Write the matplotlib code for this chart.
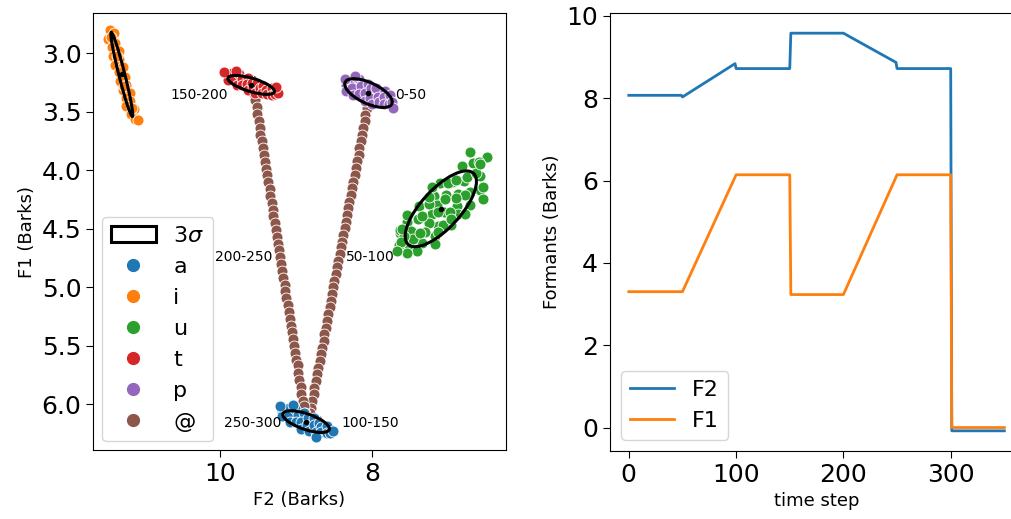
import numpy as np
import matplotlib
matplotlib.use("Agg")
import matplotlib.pyplot as plt
from matplotlib.patches import Ellipse

# ---- vowel clusters (F2, F1 in Barks) ----
vowels = ["a", "i", "u", "t", "p", "@"]
colors = ["#1f77b4", "#ff7f0e", "#2ca02c", "#d62728", "#9467bd", "#8c564b"]

a_f2 = [9.18, 9.18, 9.10, 9.09, 9.02, 9.08, 8.98, 9.00, 8.90, 8.93, 8.93, 8.85, 8.86, 8.77,
        8.83, 8.76, 8.70, 8.74, 8.68, 8.67, 8.60, 8.60, 8.56, 8.51, 9.21, 9.04, 8.74]
a_f1 = [6.06, 6.10, 6.03, 6.09, 6.04, 6.15, 6.09, 6.15, 6.08, 6.15, 6.21, 6.12, 6.18, 6.12,
        6.23, 6.18, 6.16, 6.24, 6.20, 6.24, 6.19, 6.25, 6.25, 6.23, 6.02, 6.01, 6.28]

i_f2 = [11.45, 11.39, 11.47, 11.38, 11.42, 11.33, 11.40, 11.33, 11.38, 11.27, 11.32, 11.25,
        11.31, 11.23, 11.27, 11.18, 11.23, 11.18, 11.23, 11.13, 11.17, 11.11, 11.08,
        11.43, 11.35, 11.26, 11.16]
i_f1 = [2.80, 2.83, 2.88, 2.91, 2.95, 2.98, 3.02, 3.05, 3.10, 3.12, 3.16, 3.20,
        3.24, 3.27, 3.31, 3.34, 3.38, 3.41, 3.45, 3.48, 3.52, 3.56, 3.57,
        2.86, 3.02, 3.28, 3.47]

u_f2 = [6.59, 6.68, 6.82, 6.58, 6.79, 6.72, 6.95, 6.72, 6.88, 7.11, 6.89, 7.03, 6.88, 7.19,
        7.06, 7.15, 6.97, 7.21, 7.14, 7.39, 7.26, 7.40, 7.17, 7.31, 7.54, 7.35, 7.49, 7.47,
        7.63, 7.52, 7.65, 6.50, 6.72, 6.60, 7.22, 7.17, 7.41, 6.55, 7.64, 7.59, 7.07,
        6.54, 6.75, 6.78, 6.90, 7.01, 7.05, 6.98, 7.25, 7.14, 7.14, 7.35, 7.38, 7.55, 7.61,
        7.55, 7.62, 6.78, 6.90, 6.64, 6.97, 7.26, 6.58, 7.67]
u_f1 = [4.05, 3.94, 3.96, 4.17, 4.09, 4.19, 4.10, 4.30, 4.20, 4.11, 4.31, 4.21, 4.37, 4.22,
        4.36, 4.30, 4.47, 4.37, 4.48, 4.31, 4.45, 4.42, 4.56, 4.53, 4.44, 4.62, 4.52, 4.59,
        4.54, 4.67, 4.64, 3.89, 3.84, 3.93, 4.14, 4.63, 4.69, 4.25, 4.51, 4.56, 4.47,
        4.14, 4.06, 4.21, 4.24, 4.11, 4.25, 4.36, 4.29, 4.36, 4.53, 4.39, 4.54, 4.38, 4.50,
        4.71, 4.61, 4.37, 4.08, 4.02, 4.42, 4.23, 3.95, 4.69]

t_f2 = [9.90, 9.89, 9.84, 9.81, 9.75, 9.78, 9.71, 9.71, 9.63, 9.64, 9.63, 9.58, 9.57, 9.51,
        9.54, 9.48, 9.44, 9.45, 9.40, 9.38, 9.32, 9.32, 9.28, 9.24, 9.95, 9.79, 9.26]
t_f1 = [3.19, 3.23, 3.17, 3.22, 3.18, 3.27, 3.22, 3.27, 3.21, 3.26, 3.31, 3.25, 3.30, 3.25,
        3.34, 3.30, 3.28, 3.34, 3.31, 3.35, 3.30, 3.36, 3.35, 3.34, 3.16, 3.15, 3.29]

p_f2 = [8.35, 8.34, 8.28, 8.26, 8.18, 8.25, 8.15, 8.17, 8.06, 8.09, 8.10, 8.02, 8.03, 7.95,
        8.01, 7.93, 7.83, 7.91, 7.85, 7.85, 7.77, 7.78, 7.74, 7.73, 8.36, 8.23]
p_f1 = [3.27, 3.32, 3.23, 3.30, 3.22, 3.36, 3.28, 3.35, 3.26, 3.34, 3.41, 3.30, 3.38, 3.30,
        3.43, 3.37, 3.32, 3.42, 3.37, 3.43, 3.36, 3.43, 3.42, 3.47, 3.22, 3.19]

# trajectory dots (@), steps 51-100 and 201-250 plus the held targets
traj_f2 = [8.06, 9.58, 8.72,
           8.04, 8.05, 8.07, 8.09, 8.10, 8.12, 8.13, 8.15, 8.17, 8.18,
           8.20, 8.22, 8.23, 8.25, 8.27, 8.28, 8.30, 8.32, 8.33, 8.35,
           8.36, 8.38, 8.40, 8.41, 8.43, 8.45, 8.46, 8.48, 8.50, 8.51,
           8.53, 8.54, 8.56, 8.58, 8.59, 8.61, 8.63, 8.64, 8.66, 8.68,
           8.69, 8.71, 8.73, 8.74, 8.76, 8.77, 8.79, 8.81, 8.82, 8.84,
           9.57, 9.55, 9.54, 9.52, 9.51, 9.49, 9.48, 9.47, 9.45, 9.44,
           9.42, 9.41, 9.40, 9.38, 9.37, 9.35, 9.34, 9.32, 9.31, 9.30,
           9.28, 9.27, 9.25, 9.24, 9.23, 9.21, 9.20, 9.18, 9.17, 9.15,
           9.14, 9.13, 9.11, 9.10, 9.08, 9.07, 9.06, 9.04, 9.03, 9.01,
           9.00, 8.98, 8.97, 8.96, 8.94, 8.93, 8.91, 8.90, 8.88, 8.87]
traj_f1 = [3.30, 3.23, 6.14,
           3.36, 3.41, 3.47, 3.53, 3.58, 3.64, 3.70, 3.75, 3.81, 3.87,
           3.92, 3.98, 4.04, 4.10, 4.15, 4.21, 4.27, 4.32, 4.38, 4.44,
           4.49, 4.55, 4.61, 4.66, 4.72, 4.78, 4.83, 4.89, 4.95, 5.00,
           5.06, 5.12, 5.17, 5.23, 5.29, 5.35, 5.40, 5.46, 5.52, 5.57,
           5.63, 5.69, 5.74, 5.80, 5.86, 5.91, 5.97, 6.03, 6.08, 6.14,
           3.29, 3.35, 3.40, 3.46, 3.52, 3.58, 3.64, 3.70, 3.75, 3.81,
           3.87, 3.93, 3.99, 4.04, 4.10, 4.16, 4.22, 4.28, 4.34, 4.39,
           4.45, 4.51, 4.57, 4.63, 4.68, 4.74, 4.80, 4.86, 4.92, 4.98,
           5.03, 5.09, 5.15, 5.21, 5.27, 5.33, 5.38, 5.44, 5.50, 5.56,
           5.62, 5.67, 5.73, 5.79, 5.85, 5.91, 5.97, 6.02, 6.08, 6.14]

# covariance summary per vowel for the 3-sigma ellipses
ell_vowels = ["a", "i", "u", "t", "p"]
ell_mean_f2 = [8.87, 11.29, 7.10, 9.59, 8.05]
ell_mean_f1 = [6.15, 3.18, 4.33, 3.27, 3.34]
ell_sd_f2 = [0.102, 0.048, 0.156, 0.102, 0.104]
ell_sd_f1 = [0.031, 0.120, 0.108, 0.027, 0.041]
ell_rho = [-0.65, -0.96, 0.72, -0.68, -0.62]

# segment labels
seg_labels = ["0-50", "50-100", "100-150", "150-200", "200-250", "250-300"]

# ---- formant tracks over time ----
time_f2 = [0, 49, 50, 99, 100, 150, 151, 200, 249, 250, 300, 301, 350]
f2_track = [8.07, 8.07, 8.03, 8.84, 8.72, 8.72, 9.58, 9.58, 8.87, 8.72, 8.72, -0.08, -0.08]
time_f1 = [0, 50, 100, 150, 151, 200, 250, 300, 301, 350]
f1_track = [3.30, 3.30, 6.14, 6.14, 3.23, 3.23, 6.14, 6.14, 0.0, 0.0]

fig = plt.figure(figsize=(10.12, 5.19), dpi=100)
ax1 = fig.add_axes([0.0922, 0.1329, 0.4075, 0.8414])
ax2 = fig.add_axes([0.6028, 0.1316, 0.4082, 0.8428])

tick_fs = 18
label_fs = 13
dot = 62

# left: vowel space
clusters = {"a": (a_f2, a_f1), "i": (i_f2, i_f1), "u": (u_f2, u_f1),
            "t": (t_f2, t_f1), "p": (p_f2, p_f1)}
ax1.scatter(traj_f2, traj_f1, s=dot, color=colors[5], edgecolor="white", linewidth=0.6, zorder=2)
for v, c in zip(vowels[:5], colors[:5]):
    x, y = clusters[v]
    ax1.scatter(x, y, s=dot, color=c, edgecolor="white", linewidth=0.6, zorder=3)

ell_handle = None
for k in range(len(ell_vowels)):
    cov = np.array([[ell_sd_f2[k] ** 2, ell_rho[k] * ell_sd_f2[k] * ell_sd_f1[k]],
                    [ell_rho[k] * ell_sd_f2[k] * ell_sd_f1[k], ell_sd_f1[k] ** 2]])
    vals, vecs = np.linalg.eigh(cov)
    ang = np.degrees(np.arctan2(vecs[1, 1], vecs[0, 1]))
    e = Ellipse((ell_mean_f2[k], ell_mean_f1[k]), 2 * 3 * np.sqrt(vals[1]), 2 * 3 * np.sqrt(vals[0]),
                angle=ang, facecolor="none", edgecolor="black", linewidth=2.2, zorder=5)
    ax1.add_patch(e)
    ell_handle = e
    ax1.plot(ell_mean_f2[k], ell_mean_f1[k], "o", color="black", markersize=3, zorder=6)

# label positions for the trajectory segments
seg_pos = [(7.70, 3.36, "left"), (8.35, 4.745, "left"), (8.40, 6.165, "left"),
           (9.90, 3.36, "right"), (9.31, 4.745, "right"), (9.19, 6.165, "right")]
for lab, (px, py, ha) in zip(seg_labels, seg_pos):
    ax1.text(px, py, lab, ha=ha, va="center", fontsize=10)

ax1.set_xlim(11.664, 6.248)
ax1.set_ylim(6.393, 2.658)
ax1.set_xticks([10, 8])
ax1.set_yticks([3.0, 3.5, 4.0, 4.5, 5.0, 5.5, 6.0])
ax1.set_yticklabels(["3.0", "3.5", "4.0", "4.5", "5.0", "5.5", "6.0"])
ax1.tick_params(labelsize=tick_fs, length=5)
ax1.set_xlabel("F2 (Barks)", fontsize=label_fs)
ax1.set_ylabel("F1 (Barks)", fontsize=label_fs)

handles = [ell_handle] + [plt.Line2D([], [], marker="o", linestyle="", color=c, markersize=8.5)
                          for c in colors]
ax1.legend(handles, [r"$3\sigma$"] + vowels, loc="lower left", fontsize=16,
           handlelength=2.0, borderaxespad=0.4)

# right: formant trajectories
ax2.plot(time_f2, f2_track, color=colors[0], linewidth=2, label="F2")
ax2.plot(time_f1, f1_track, color=colors[1], linewidth=2, label="F1")
ax2.set_xticks([0, 100, 200, 300])
ax2.set_yticks([0, 2, 4, 6, 8, 10])
ax2.tick_params(labelsize=tick_fs, length=5)
ax2.set_xlabel("time step", fontsize=label_fs)
ax2.set_ylabel("Formants (Barks)", fontsize=label_fs)
ax2.legend(loc="lower left", fontsize=16)

fig.savefig("out.png", dpi=100)
